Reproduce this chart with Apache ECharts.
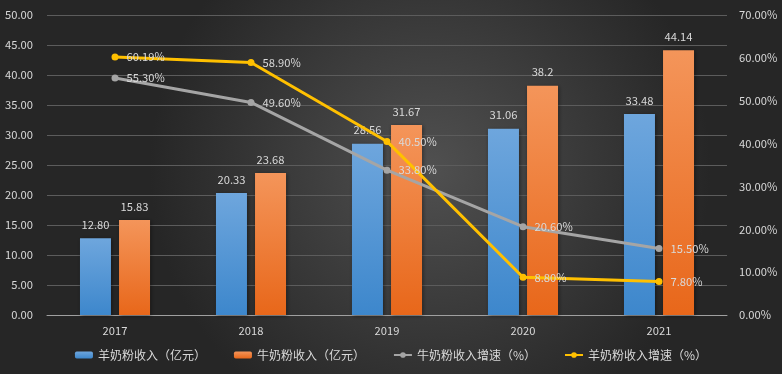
<!DOCTYPE html>
<html><head><meta charset="utf-8">
<script src="https://cdn.jsdelivr.net/npm/echarts@6/dist/echarts.min.js"></script>
<style>html,body{margin:0;padding:0;background:#333;}#c{width:782px;height:374px;}</style>
</head><body><div id="c"></div>
<script>
const categories = ['2017','2018','2019','2020','2021'];
const goatMilkIncome = [12.80, 20.33, 28.56, 31.06, 33.48];
const cowMilkIncome = [15.83, 23.68, 31.67, 38.2, 44.14];
const cowMilkGrowth = [55.30, 49.60, 33.80, 20.60, 15.50];
const goatMilkGrowth = [60.19, 58.90, 40.50, 8.80, 7.80];
const seriesNames = ['羊奶粉收入（亿元）','牛奶粉收入（亿元）','牛奶粉收入增速（%）','羊奶粉收入增速（%）'];

const font = "'Noto Sans CJK SC', 'DejaVu Sans', sans-serif";
const txt = '#d9d9d9';
const nfs = 11.2;
const chart = echarts.init(document.getElementById('c'));
chart.setOption({
  animation: false,
  backgroundColor: {
    type: 'radial', x: 0.55, y: 0.45, r: 0.75,
    colorStops: [{offset: 0, color: '#505050'}, {offset: 1, color: '#262626'}]
  },
  textStyle: {fontFamily: font},
  grid: {left: 47, right: 55, top: 15, bottom: 59},
  legend: {
    bottom: 8, left: 'center', itemGap: 28, itemWidth: 18, itemHeight: 7,
    textStyle: {color: txt, fontSize: 12, fontFamily: font},
    data: seriesNames
  },
  xAxis: {
    type: 'category', data: categories,
    axisLine: {lineStyle: {color: '#a0a0a0'}},
    axisTick: {show: false},
    axisLabel: {color: txt, fontSize: nfs, margin: 10}
  },
  yAxis: [{
    type: 'value', min: 0, max: 50, interval: 5,
    axisLine: {show: false}, axisTick: {show: false},
    splitLine: {lineStyle: {color: '#5c5c5c'}},
    axisLabel: {color: txt, fontSize: nfs, margin: 14, formatter: v => v.toFixed(2)}
  }, {
    type: 'value', min: 0, max: 70, interval: 10,
    axisLine: {show: false}, axisTick: {show: false},
    splitLine: {show: false},
    axisLabel: {color: txt, fontSize: nfs, margin: 12, formatter: v => v.toFixed(2) + '%'}
  }],
  series: [{
    name: seriesNames[0], type: 'bar', data: goatMilkIncome, barWidth: 31, barGap: '26%',
    itemStyle: {color: new echarts.graphic.LinearGradient(0,0,0,1,[{offset:0,color:'#6ea6dd'},{offset:1,color:'#3d87cc'}]),
      shadowColor: 'rgba(0,0,0,0.45)', shadowBlur: 4, shadowOffsetX: 1, shadowOffsetY: 1},
    label: {show: true, position: 'top', color: txt, fontSize: nfs, distance: 8, formatter: p => p.value.toFixed(2)}
  }, {
    name: seriesNames[1], type: 'bar', data: cowMilkIncome, barWidth: 31,
    itemStyle: {color: new echarts.graphic.LinearGradient(0,0,0,1,[{offset:0,color:'#f4955a'},{offset:1,color:'#e8671a'}]),
      shadowColor: 'rgba(0,0,0,0.45)', shadowBlur: 4, shadowOffsetX: 1, shadowOffsetY: 1},
    label: {show: true, position: 'top', color: txt, fontSize: nfs, distance: 8, formatter: p => String(p.value)}
  }, {
    name: seriesNames[2], type: 'line', yAxisIndex: 1, data: cowMilkGrowth,
    symbol: 'circle', symbolSize: 7,
    lineStyle: {color: '#a5a5a5', width: 3}, itemStyle: {color: '#a5a5a5'},
    label: {show: true, position: 'right', distance: 8, color: txt, fontSize: nfs, formatter: p => p.value.toFixed(2) + '%'}
  }, {
    name: seriesNames[3], type: 'line', yAxisIndex: 1, data: goatMilkGrowth,
    symbol: 'circle', symbolSize: 7,
    lineStyle: {color: '#ffc000', width: 3}, itemStyle: {color: '#ffc000'},
    label: {show: true, position: 'right', distance: 8, color: txt, fontSize: nfs, formatter: p => p.value.toFixed(2) + '%'}
  }]
});
</script></body></html>
